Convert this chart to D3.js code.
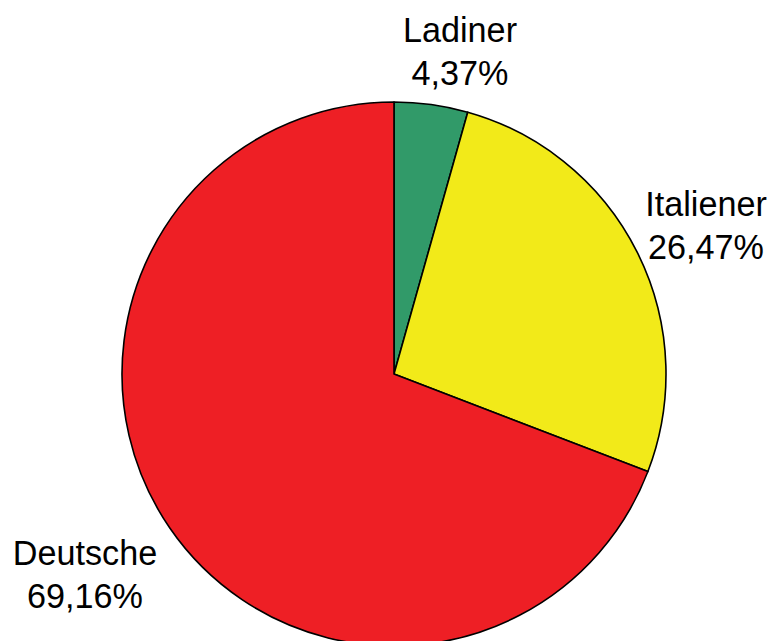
<!DOCTYPE html>
<html>
<head>
<meta charset="utf-8">
<script src="https://cdn.jsdelivr.net/npm/d3@7"></script>
<style>
  html, body { margin: 0; padding: 0; background: #fff; }
  svg { display: block; }
  text { font-family: "Liberation Sans", Arial, sans-serif; fill: #000; }
</style>
</head>
<body>
<svg id="chart" width="773" height="641"></svg>
<script>
// Language groups and their shares (percent)
const groups = ["Ladiner", "Italiener", "Deutsche"];
const shares = [4.37, 26.47, 69.16];
const shareLabels = ["4,37%", "26,47%", "69,16%"];
const colors = ["#319a69", "#f2ea19", "#ee1f25"];

const width = 773, height = 641;
const cx = 394, cy = 374, radius = 272;

const svg = d3.select("#chart");
const g = svg.append("g").attr("transform", `translate(${cx},${cy})`);

const data = groups.map((name, i) => ({ name, value: shares[i], label: shareLabels[i], color: colors[i] }));

const pie = d3.pie().value(d => d.value).sort(null);
const arc = d3.arc().innerRadius(0).outerRadius(radius);

g.selectAll("path.slice")
  .data(pie(data))
  .join("path")
  .attr("class", "slice")
  .attr("d", arc)
  .attr("fill", d => d.data.color)
  .attr("stroke", "#000")
  .attr("stroke-width", 1.6)
  .attr("stroke-linejoin", "round");

// Label anchor positions (centre of the two-line label, first baseline)
const labelPos = {
  "Ladiner":   [460, 42],
  "Italiener": [706, 216],
  "Deutsche":  [85, 565]
};

const labels = svg.selectAll("g.label")
  .data(data)
  .join("g")
  .attr("class", "label")
  .attr("transform", d => `translate(${labelPos[d.name][0]},${labelPos[d.name][1]})`);

labels.append("text")
  .attr("text-anchor", "middle")
  .attr("font-size", 34.2)
  .text(d => d.name);

labels.append("text")
  .attr("text-anchor", "middle")
  .attr("font-size", 34.2)
  .attr("y", 43)
  .text(d => d.label);
</script>
</body>
</html>
